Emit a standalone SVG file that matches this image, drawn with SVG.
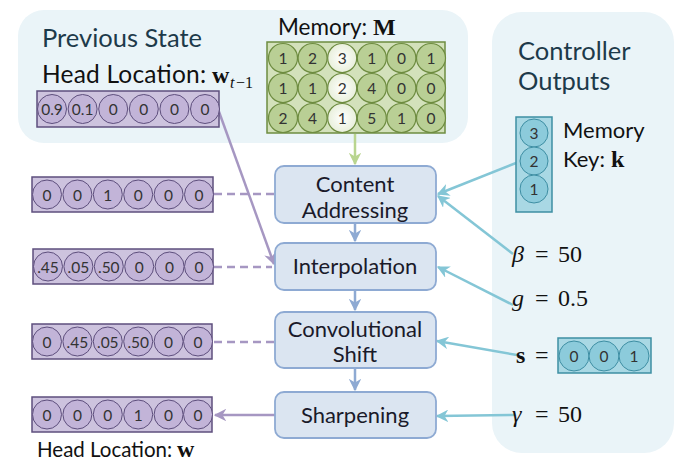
<svg xmlns="http://www.w3.org/2000/svg" width="687" height="469" viewBox="0 0 687 469">
<defs>
<style>
.panel{fill:#eaf4f8;}
.ttl{font-family:Lato,"Open Sans",sans-serif;font-size:25.5px;fill:#1d3a4a;}
.lbl{font-family:Lato,"Open Sans",sans-serif;font-size:22px;fill:#111;}
.math{font-family:"Liberation Serif","DejaVu Serif",serif;font-size:24px;fill:#111;}
.sub{font-family:"Liberation Serif","DejaVu Serif",serif;font-size:16px;fill:#111;}
.num{font-family:Lato,"Open Sans",sans-serif;font-size:15.5px;fill:#333;text-anchor:middle;dominant-baseline:central;}
.pbox{fill:#cdc3de;stroke:#5e4f7d;stroke-width:1.5;}
.pc{fill:#c2b4d8;stroke:#5e4f7d;stroke-width:1;}
.gbox{fill:#d3e1bb;stroke:#6e8c40;stroke-width:1.5;}
.gc{fill:#b9cf95;stroke:#6e8c40;stroke-width:1.2;}
.gw{fill:url(#gw);stroke:#6e8c40;stroke-width:1.2;}
.tbox{fill:#a9d8e4;stroke:#3e8ea3;stroke-width:1.5;}
.tc{fill:#8ccbdb;stroke:#3e8ea3;stroke-width:1;}
.node rect{fill:#dbe5f1;stroke:#8eaad3;stroke-width:1.8;}
.ntxt{font-family:Lato,"Open Sans",sans-serif;font-size:22px;fill:#1a1a2a;text-anchor:middle;}
.blue{stroke:#8eaad3;stroke-width:2.5;fill:none;}
.teal{stroke:#84c6d6;stroke-width:2.5;fill:none;}
.purp{stroke:#a697c2;stroke-width:2.5;fill:none;}
.dash{stroke:#a697c2;stroke-width:2.5;fill:none;stroke-dasharray:8,5;}
.green{stroke:#b9d58f;stroke-width:2.5;fill:none;}
</style>
<radialGradient id="gw" cx="0.5" cy="0.5" r="0.6">
<stop offset="0" stop-color="#ffffff"/>
<stop offset="1" stop-color="#e4ecd4"/>
</radialGradient>
<marker id="ab" viewBox="0 0 10 10" refX="9" refY="5" markerWidth="5" markerHeight="5" orient="auto"><path d="M0,0 L10,5 L0,10 L3,5 z" fill="#8eaad3"/></marker>
<marker id="at" viewBox="0 0 10 10" refX="9" refY="5" markerWidth="5" markerHeight="5" orient="auto"><path d="M0,0 L10,5 L0,10 L3,5 z" fill="#84c6d6"/></marker>
<marker id="ap" viewBox="0 0 10 10" refX="9" refY="5" markerWidth="5" markerHeight="5" orient="auto"><path d="M0,0 L10,5 L0,10 L3,5 z" fill="#a697c2"/></marker>
<marker id="ag" viewBox="0 0 10 10" refX="9" refY="5" markerWidth="5" markerHeight="5" orient="auto"><path d="M0,0 L10,5 L0,10 L3,5 z" fill="#b9d58f"/></marker>
</defs>
<rect x="0" y="0" width="687" height="469" fill="#ffffff"/>

<g id="previous-state">
<rect class="panel" x="18" y="10" width="450" height="133" rx="26"/>
<text class="ttl" x="42" y="47">Previous State</text>
</g>
<g id="controller-outputs">
<rect class="panel" x="492" y="12" width="182" height="441" rx="30"/>
<text class="ttl" x="518" y="60">Controller</text>
<text class="ttl" x="518" y="90">Outputs</text>
</g>

<g id="connectors">
<line class="green" x1="355" y1="134" x2="355" y2="164" marker-end="url(#ag)"/>
<line class="blue" x1="355" y1="223" x2="355" y2="241" marker-end="url(#ab)"/>
<line class="blue" x1="355" y1="290" x2="355" y2="310" marker-end="url(#ab)"/>
<line class="blue" x1="355" y1="368" x2="355" y2="390" marker-end="url(#ab)"/>
<line class="purp" x1="218" y1="109" x2="274" y2="264" marker-end="url(#ap)"/>
<line class="dash" x1="214" y1="194" x2="275" y2="194"/>
<line class="dash" x1="214" y1="267" x2="272" y2="267"/>
<line class="dash" x1="214" y1="342" x2="275" y2="342"/>
<line class="purp" x1="275" y1="415" x2="215" y2="415" marker-end="url(#ap)"/>
<line class="teal" x1="516" y1="163" x2="438" y2="194" marker-end="url(#at)"/>
<line class="teal" x1="513" y1="254" x2="438" y2="196" marker-end="url(#at)"/>
<line class="teal" x1="513" y1="305" x2="438" y2="267" marker-end="url(#at)"/>
<line class="teal" x1="517" y1="355" x2="437" y2="341" marker-end="url(#at)"/>
<line class="teal" x1="515" y1="415" x2="437" y2="416" marker-end="url(#at)"/>
</g>

<g id="head-prev">
<text class="lbl" x="42" y="83" style="font-size:24.5px" textLength="164" lengthAdjust="spacing">Head Location:</text>
<text class="math" x="212" y="83" font-weight="bold">w</text>
<text class="sub" x="230" y="88" font-style="italic">t</text>
<text class="sub" x="236" y="88">−1</text>
<rect class="pbox" x="37" y="91" width="182" height="36"/>
<circle class="pc" cx="52" cy="109" r="14.5"/><text class="num" x="52" y="109">0.9</text>
<circle class="pc" cx="82.6" cy="109" r="14.5"/><text class="num" x="82.6" y="109">0.1</text>
<circle class="pc" cx="113.2" cy="109" r="14.5"/><text class="num" x="113.2" y="109">0</text>
<circle class="pc" cx="143.8" cy="109" r="14.5"/><text class="num" x="143.8" y="109">0</text>
<circle class="pc" cx="174.4" cy="109" r="14.5"/><text class="num" x="174.4" y="109">0</text>
<circle class="pc" cx="205" cy="109" r="14.5"/><text class="num" x="205" y="109">0</text>
</g>

<g id="memory">
<text class="lbl" x="278" y="35" style="font-size:22.5px">Memory:</text>
<text class="math" x="373" y="35" font-weight="bold">M</text>
<rect class="gbox" x="267" y="42" width="178" height="91"/>
<circle class="gc" cx="283" cy="58" r="14.5"/><text class="num" x="283" y="58">1</text>
<circle class="gc" cx="312.6" cy="58" r="14.5"/><text class="num" x="312.6" y="58">2</text>
<circle class="gw" cx="342.2" cy="58" r="14.5"/><text class="num" x="342.2" y="58">3</text>
<circle class="gc" cx="371.8" cy="58" r="14.5"/><text class="num" x="371.8" y="58">1</text>
<circle class="gc" cx="401.4" cy="58" r="14.5"/><text class="num" x="401.4" y="58">0</text>
<circle class="gc" cx="431" cy="58" r="14.5"/><text class="num" x="431" y="58">1</text>
<circle class="gc" cx="283" cy="88" r="14.5"/><text class="num" x="283" y="88">1</text>
<circle class="gc" cx="312.6" cy="88" r="14.5"/><text class="num" x="312.6" y="88">1</text>
<circle class="gw" cx="342.2" cy="88" r="14.5"/><text class="num" x="342.2" y="88">2</text>
<circle class="gc" cx="371.8" cy="88" r="14.5"/><text class="num" x="371.8" y="88">4</text>
<circle class="gc" cx="401.4" cy="88" r="14.5"/><text class="num" x="401.4" y="88">0</text>
<circle class="gc" cx="431" cy="88" r="14.5"/><text class="num" x="431" y="88">0</text>
<circle class="gc" cx="283" cy="118" r="14.5"/><text class="num" x="283" y="118">2</text>
<circle class="gc" cx="312.6" cy="118" r="14.5"/><text class="num" x="312.6" y="118">4</text>
<circle class="gw" cx="342.2" cy="118" r="14.5"/><text class="num" x="342.2" y="118">1</text>
<circle class="gc" cx="371.8" cy="118" r="14.5"/><text class="num" x="371.8" y="118">5</text>
<circle class="gc" cx="401.4" cy="118" r="14.5"/><text class="num" x="401.4" y="118">1</text>
<circle class="gc" cx="431" cy="118" r="14.5"/><text class="num" x="431" y="118">0</text>
</g>

<g id="memory-key">
<rect class="tbox" x="516" y="117" width="36" height="95"/>
<circle class="tc" cx="534" cy="133" r="14"/><text class="num" x="534" y="133">3</text>
<circle class="tc" cx="534" cy="161" r="14"/><text class="num" x="534" y="161">2</text>
<circle class="tc" cx="534" cy="189" r="14"/><text class="num" x="534" y="189">1</text>
<text class="lbl" x="563" y="138">Memory</text>
<text class="lbl" x="563" y="167">Key:</text>
<text class="math" x="611" y="167" font-weight="bold">k</text>
</g>

<g id="beta"><text class="math" x="512" y="262" font-style="italic">β</text><text class="math" x="535" y="262">=</text><text class="math" x="558" y="262">50</text></g>
<g id="g-gate"><text class="math" x="512" y="306" font-style="italic">g</text><text class="math" x="535" y="306">=</text><text class="math" x="558" y="306">0.5</text></g>
<g id="shift">
<text class="math" x="516" y="363" font-weight="bold">s</text><text class="math" x="535" y="363">=</text>
<rect class="tbox" x="558" y="338" width="93" height="35"/>
<circle class="tc" cx="574" cy="356" r="15"/><text class="num" x="574" y="356">0</text>
<circle class="tc" cx="604" cy="356" r="15"/><text class="num" x="604" y="356">0</text>
<circle class="tc" cx="634" cy="356" r="15"/><text class="num" x="634" y="356">1</text>
</g>
<g id="gamma"><text class="math" x="512" y="422" font-style="italic">γ</text><text class="math" x="535" y="422">=</text><text class="math" x="558" y="422">50</text></g>

<g id="content-addressing" class="node">
<rect x="275" y="166" width="161" height="57" rx="9"/>
<text class="ntxt" x="355" y="192">Content</text>
<text class="ntxt" x="355" y="218">Addressing</text>
</g>
<g id="interpolation" class="node">
<rect x="275" y="243" width="161" height="47" rx="9"/>
<text class="ntxt" x="355" y="274">Interpolation</text>
</g>
<g id="convolutional-shift" class="node">
<rect x="275" y="312" width="161" height="56" rx="9"/>
<text class="ntxt" x="355" y="337">Convolutional</text>
<text class="ntxt" x="355" y="362">Shift</text>
</g>
<g id="sharpening" class="node">
<rect x="275" y="392" width="161" height="46" rx="9"/>
<text class="ntxt" x="355" y="423">Sharpening</text>
</g>

<g id="w-content">
<rect class="pbox" x="32" y="177" width="181" height="35"/>
<circle class="pc" cx="47" cy="194.5" r="14.5"/><text class="num" x="47" y="194.5">0</text>
<circle class="pc" cx="77.4" cy="194.5" r="14.5"/><text class="num" x="77.4" y="194.5">0</text>
<circle class="pc" cx="107.8" cy="194.5" r="14.5"/><text class="num" x="107.8" y="194.5">1</text>
<circle class="pc" cx="138.2" cy="194.5" r="14.5"/><text class="num" x="138.2" y="194.5">0</text>
<circle class="pc" cx="168.6" cy="194.5" r="14.5"/><text class="num" x="168.6" y="194.5">0</text>
<circle class="pc" cx="199" cy="194.5" r="14.5"/><text class="num" x="199" y="194.5">0</text>
</g>
<g id="w-interp">
<rect class="pbox" x="33" y="249" width="180" height="35"/>
<circle class="pc" cx="48" cy="266.5" r="14.5"/><text class="num" x="48" y="266.5">.45</text>
<circle class="pc" cx="78.4" cy="266.5" r="14.5"/><text class="num" x="78.4" y="266.5">.05</text>
<circle class="pc" cx="108.8" cy="266.5" r="14.5"/><text class="num" x="108.8" y="266.5">.50</text>
<circle class="pc" cx="139.2" cy="266.5" r="14.5"/><text class="num" x="139.2" y="266.5">0</text>
<circle class="pc" cx="169.6" cy="266.5" r="14.5"/><text class="num" x="169.6" y="266.5">0</text>
<circle class="pc" cx="199" cy="266.5" r="14.5"/><text class="num" x="199" y="266.5">0</text>
</g>
<g id="w-shift">
<rect class="pbox" x="32" y="324" width="180" height="35"/>
<circle class="pc" cx="47" cy="341.5" r="14.5"/><text class="num" x="47" y="341.5">0</text>
<circle class="pc" cx="77.4" cy="341.5" r="14.5"/><text class="num" x="77.4" y="341.5">.45</text>
<circle class="pc" cx="107.8" cy="341.5" r="14.5"/><text class="num" x="107.8" y="341.5">.05</text>
<circle class="pc" cx="138.2" cy="341.5" r="14.5"/><text class="num" x="138.2" y="341.5">.50</text>
<circle class="pc" cx="168.6" cy="341.5" r="14.5"/><text class="num" x="168.6" y="341.5">0</text>
<circle class="pc" cx="198" cy="341.5" r="14.5"/><text class="num" x="198" y="341.5">0</text>
</g>
<g id="w-final">
<rect class="pbox" x="32" y="397" width="180" height="35"/>
<circle class="pc" cx="47" cy="414.5" r="14.5"/><text class="num" x="47" y="414.5">0</text>
<circle class="pc" cx="77.4" cy="414.5" r="14.5"/><text class="num" x="77.4" y="414.5">0</text>
<circle class="pc" cx="107.8" cy="414.5" r="14.5"/><text class="num" x="107.8" y="414.5">0</text>
<circle class="pc" cx="138.2" cy="414.5" r="14.5"/><text class="num" x="138.2" y="414.5">1</text>
<circle class="pc" cx="168.6" cy="414.5" r="14.5"/><text class="num" x="168.6" y="414.5">0</text>
<circle class="pc" cx="198" cy="414.5" r="14.5"/><text class="num" x="198" y="414.5">0</text>
<text class="lbl" x="37" y="457" style="font-size:20.5px">Head Location:</text>
<text class="math" x="177" y="457" font-weight="bold">w</text>
</g>
</svg>
